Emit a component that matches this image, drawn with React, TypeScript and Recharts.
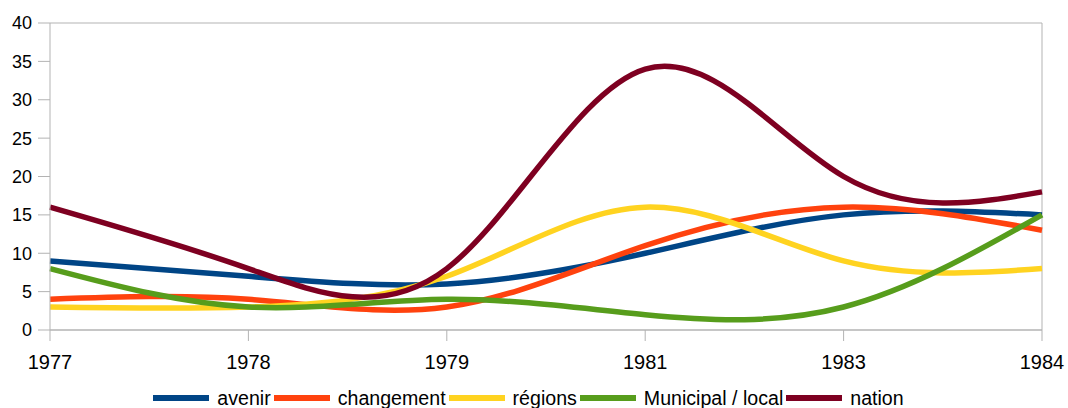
// App.tsx
// Five smoothed series over six uneven years, LibreOffice-style palette.
import { LineChart, Line, XAxis, YAxis, CartesianGrid, Legend, ReferenceLine } from "recharts";

const years = ["1977", "1978", "1979", "1981", "1983", "1984"];
const avenir = [9, 7, 6, 10, 15, 15];
const changement = [4, 4, 3, 11, 16, 13];
const regions = [3, 3, 7, 16, 9, 8];
const municipal = [8, 3, 4, 2, 3, 15];
const nation = [16, 8, 8, 34, 20, 18];
const yTicks = [0, 5, 10, 15, 20, 25, 30, 35, 40];

const series = [
  { key: "avenir", label: "avenir", color: "#004586", values: avenir },
  { key: "changement", label: "changement", color: "#ff420e", values: changement },
  { key: "regions", label: "régions", color: "#ffd320", values: regions },
  { key: "municipal", label: "Municipal / local", color: "#579d1c", values: municipal },
  { key: "nation", label: "nation", color: "#7e0021", values: nation },
];

const data = years.map((year, i) => {
  const row: Record<string, string | number> = { year };
  series.forEach((s) => (row[s.key] = s.values[i]));
  return row;
});

const FONT = '"Liberation Sans", Arial, sans-serif';
const GRID = "#b3b3b3";

function ChartLegend() {
  return (
    <div
      style={{
        display: "flex",
        justifyContent: "center",
        alignItems: "center",
        height: 20,
        fontFamily: FONT,
        fontSize: 19.6,
        color: "#000",
        paddingLeft: 18,
      }}
    >
      {series.map((s) => (
        <div key={s.key} style={{ display: "flex", alignItems: "center", marginRight: 3 }}>
          <span style={{ display: "inline-block", width: 56, height: 6, background: s.color, marginRight: 8 }} />
          <span style={{ lineHeight: "20px", whiteSpace: "nowrap" }}>{s.label}</span>
        </div>
      ))}
    </div>
  );
}

export default function App() {
  return (
    <div style={{ position: "absolute", left: 0, top: 0, width: 1068, height: 408, background: "#fff" }}>
      <LineChart
        width={1068}
        height={408}
        data={data}
        margin={{ top: 23, right: 26, left: 0, bottom: 0 }}
        style={{ fontFamily: FONT }}
      >
        <CartesianGrid vertical={false} stroke={GRID} strokeWidth={1} />
        <XAxis
          dataKey="year"
          interval={0}
          height={58}
          tickSize={11}
          tickMargin={14}
          stroke={GRID}
          tick={{ fontSize: 20, fill: "#000", fontFamily: FONT }}
          tickLine={{ stroke: GRID }}
          axisLine={{ stroke: GRID }}
        />
        <YAxis
          yAxisId="l"
          width={50}
          domain={[0, 40]}
          ticks={yTicks}
          interval={0}
          tickSize={12}
          tickMargin={6}
          tick={{ fontSize: 18, fill: "#000", fontFamily: FONT }}
          tickLine={{ stroke: GRID }}
          axisLine={{ stroke: GRID }}
        />
        <ReferenceLine yAxisId="l" x="1984" stroke={GRID} strokeWidth={1} />
        <Legend verticalAlign="bottom" content={() => <ChartLegend />} />
        {series.map((s) => (
          <Line
            key={s.key}
            yAxisId="l"
            type="natural"
            dataKey={s.key}
            name={s.label}
            stroke={s.color}
            strokeWidth={5.5}
            dot={false}
            activeDot={false}
            isAnimationActive={false}
          />
        ))}
      </LineChart>
    </div>
  );
}
